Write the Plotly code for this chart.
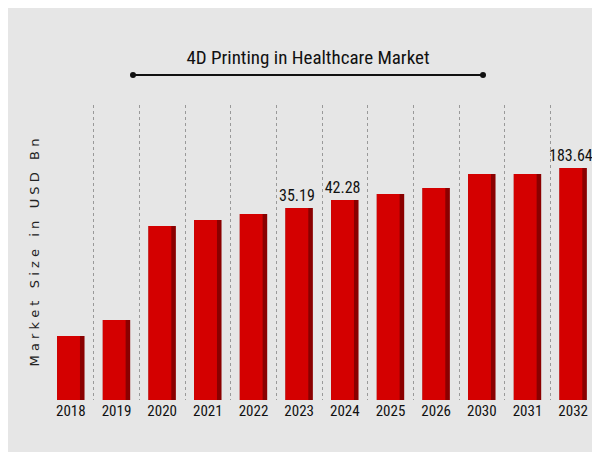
import plotly.graph_objects as go

years = ['2018', '2019', '2020', '2021', '2022', '2023', '2024', '2025', '2026', '2030', '2031', '2032']
# bar heights as drawn (no value axis shown in the reference)
heights = [64, 80, 174, 180, 186, 192, 200, 206, 212, 226, 226, 232]
labels = ['', '', '', '', '', '35.19', '42.28', '', '', '', '', '183.64']

W, H = 600, 452
L, R, T, B = 40, 12, 97, 60
PW, PH = W - L - R, H - T - B

fig = go.Figure()
# dark shadow bar behind for a bit of depth
fig.add_trace(go.Bar(
    x=years, y=heights, width=0.6,
    marker=dict(color='#8a0000', line=dict(width=0)),
    hoverinfo='skip', showlegend=False,
))
fig.add_trace(go.Bar(
    x=years, y=heights, width=0.5, offset=-0.3,
    marker=dict(color='#d40000', line=dict(width=0)),
    text=labels, textposition='outside', cliponaxis=False, constraintext='none',
    textfont=dict(family='Roboto Condensed, Liberation Sans Narrow, Roboto', size=16, color='#111'),
    showlegend=False,
))

fig.update_layout(
    width=W, height=H, barmode='overlay',
    margin=dict(l=L, r=R, t=T, b=B),
    paper_bgcolor='#e6e6e6', plot_bgcolor='rgba(0,0,0,0)',
    title=dict(text='4D Printing in Healthcare Market', x=0.5, y=0.905, xanchor='center',
               font=dict(family='Roboto Condensed, Liberation Sans Narrow, Roboto', size=19, color='#111')),
    xaxis=dict(tickson='boundaries', showgrid=True, gridcolor='#999', griddash='dot', gridwidth=1,
               ticks='', showline=False,
               tickfont=dict(family='Roboto Condensed, Liberation Sans Narrow, Roboto', size=15, color='#111')),
    yaxis=dict(range=[0, 295], showgrid=False, showticklabels=False, zeroline=False,
               title=dict(text='M a r k e t   S i z e   i n   U S D   B n', standoff=4,
                          font=dict(family='DejaVu Sans', size=13, color='#222'))),
    shapes=[
        dict(type='line', xref='paper', yref='paper', x0=(125 - L) / PW, x1=(475 - L) / PW,
             y0=(H - 67 - B) / PH, y1=(H - 67 - B) / PH, line=dict(color='#111', width=2)),
        dict(type='circle', xref='paper', yref='paper',
             x0=(122 - L) / PW, x1=(128 - L) / PW,
             y0=(H - 70 - B) / PH, y1=(H - 64 - B) / PH,
             fillcolor='#111', line=dict(width=0)),
        dict(type='circle', xref='paper', yref='paper',
             x0=(472 - L) / PW, x1=(478 - L) / PW,
             y0=(H - 70 - B) / PH, y1=(H - 64 - B) / PH,
             fillcolor='#111', line=dict(width=0)),
    ],
)

fig.write_html('out.html')
